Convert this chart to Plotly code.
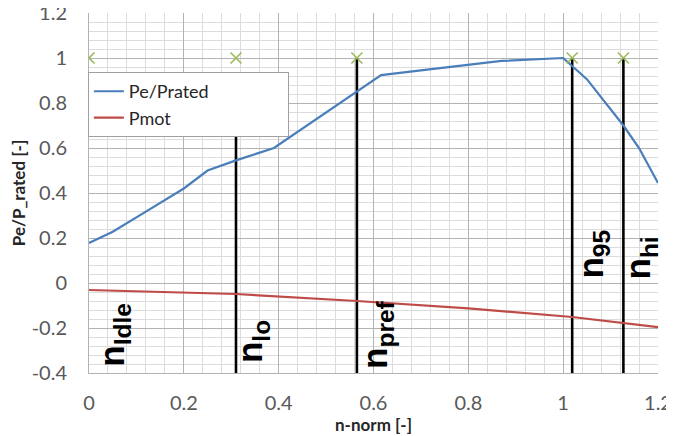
import plotly.graph_objects as go

# Data
pe_x = [0, 0.05, 0.12, 0.2, 0.25, 0.31, 0.39, 0.616, 0.7, 0.87, 1.0, 1.05, 1.127, 1.16, 1.2]
pe_y = [0.178, 0.228, 0.317, 0.42, 0.50, 0.545, 0.60, 0.924, 0.945, 0.987, 1.0, 0.906, 0.70, 0.60, 0.444]
pmot_x = [0, 0.2, 0.31, 0.565, 0.8, 1.019, 1.127, 1.2]
pmot_y = [-0.031, -0.041, -0.049, -0.08, -0.113, -0.151, -0.178, -0.196]
series_names = ["Pe/Prated", "Pmot"]
speed_names = ["Idle", "lo", "pref", "95", "hi"]
speed_x = [0, 0.31, 0.565, 1.019, 1.127]
speed_top = [None, 0.69, 1.0, 1.0, 1.0]
marker_y = [1, 1, 1, 1, 1]
label_x = [0.052, 0.344, 0.607, 1.062, 1.163]
label_y = [-0.231, -0.262, -0.227, 0.129, 0.111]
x_ticks = [0, 0.2, 0.4, 0.6, 0.8, 1.0, 1.2]
x_tick_text = ["0", "0.2", "0.4", "0.6", "0.8", "1", "1.2"]
y_ticks = [-0.4, -0.2, 0, 0.2, 0.4, 0.6, 0.8, 1.0, 1.2]
y_tick_text = ["-0.4", "-0.2", "0", "0.2", "0.4", "0.6", "0.8", "1", "1.2"]
y_bottom = -0.4

FONT = "Lato"
NB = "\u00a0"
fig = go.Figure()

# vertical speed lines
for sx, top in zip(speed_x, speed_top):
    if top is None:
        continue
    fig.add_trace(go.Scatter(x=[sx, sx], y=[y_bottom, top], mode="lines",
                             line=dict(color="black", width=2.6), showlegend=False,
                             hoverinfo="skip"))

fig.add_trace(go.Scatter(x=pe_x, y=pe_y, mode="lines", name=series_names[0] + NB * 16,
                         line=dict(color="#4a7ebb", width=2.2)))
fig.add_trace(go.Scatter(x=pmot_x, y=pmot_y, mode="lines", name=series_names[1],
                         line=dict(color="#be4b48", width=2.2)))
fig.add_trace(go.Scatter(x=speed_x, y=marker_y, mode="markers", showlegend=False,
                         marker=dict(symbol="x-thin", size=11,
                                     line=dict(color="#9bbb59", width=1.6))))

for name, lx, ly in zip(speed_names, label_x, label_y):
    fig.add_annotation(x=lx, y=ly, text="<b>n<sub>%s</sub></b>" % name,
                       textangle=-90, showarrow=False, xanchor="center", yanchor="middle",
                       font=dict(family="Liberation Sans", size=35, color="black"))

# page body has an 8px offset; margins compensate so the plot area lands at x 89-658, y 13-373
fig.update_layout(
    width=674, height=436,
    margin=dict(l=81, r=24, t=5, b=71, autoexpand=False),
    paper_bgcolor="white", plot_bgcolor="white",
    font=dict(family=FONT, size=20, color="#595959"),
    legend=dict(x=-0.002, y=0.836, xanchor="left", yanchor="top",
                bgcolor="white", bordercolor="#a0a0a0", borderwidth=1,
                font=dict(family=FONT, size=18, color="#262626"),
                tracegroupgap=0),
    xaxis=dict(range=[0, 1.2], tickvals=x_ticks, ticktext=x_tick_text,
               showgrid=True, gridcolor="#b3b3b3", gridwidth=1,
               minor=dict(dtick=0.04, showgrid=True, gridcolor="#dcdcdc", gridwidth=1),
               zeroline=False, showline=True, linecolor="#b3b3b3",
               ticks="", ticklabelstandoff=12, automargin=False, ticklabeloverflow="allow",
               title=dict(text="<b>n-norm [-]</b>", font=dict(family=FONT, size=17, color="#262626"),
                          standoff=0)),
    yaxis=dict(range=[-0.4, 1.2], tickvals=y_ticks, ticktext=y_tick_text,
               showgrid=True, gridcolor="#b3b3b3", gridwidth=1,
               minor=dict(dtick=0.04, showgrid=True, gridcolor="#dcdcdc", gridwidth=1),
               zeroline=False, showline=True, linecolor="#b3b3b3",
               ticks="", ticklabelstandoff=17, automargin=False, ticklabeloverflow="allow",
               title=dict(text="<b>Pe/P_rated [-]</b>", font=dict(family=FONT, size=17, color="#262626"),
                          standoff=4)),
)

fig.write_html("out.html")
